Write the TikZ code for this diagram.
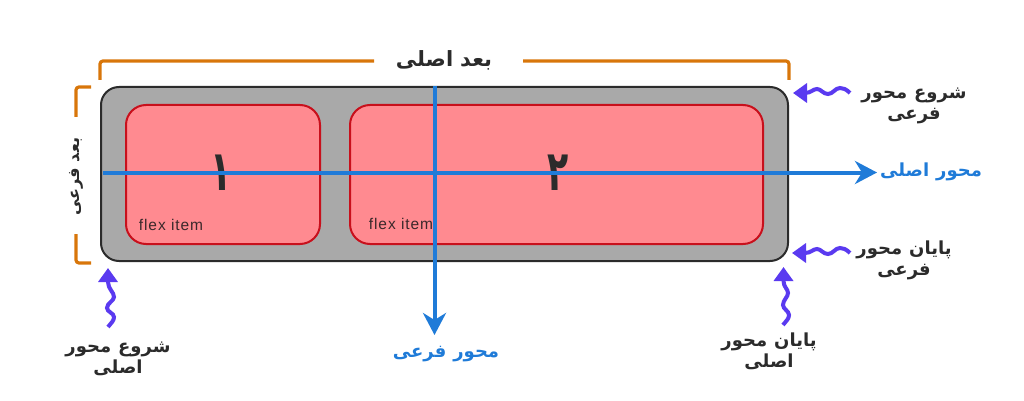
\documentclass[tikz,border=0pt]{standalone}
\usepackage{fontspec}
\usetikzlibrary{arrows.meta}
\setmainfont{Liberation Sans}
\newfontfamily\arabicbold[Script=Arabic]{DejaVu Sans Bold}
\newfontfamily\flexfont[LetterSpace=6]{Liberation Sans}
\TeXXeTstate=1
\newcommand{\rl}[1]{\beginR #1\endR}
\newcommand{\gapw}{\hspace{7pt}}
\definecolor{boxgray}{HTML}{A9A9A9}
\definecolor{itemfill}{HTML}{FF8A90}
\definecolor{itemline}{HTML}{C8101C}
\definecolor{axisblue}{HTML}{1F7BD8}
\definecolor{brk}{HTML}{D8760A}
\definecolor{wavy}{HTML}{5A3AF0}
\definecolor{ink}{HTML}{2B2B2B}
\tikzset{
  x=1pt,y=-1pt,
  container/.style={draw=ink,line width=2pt,fill=boxgray,rounded corners=18pt},
  itembox/.style={draw=itemline,line width=2pt,fill=itemfill,rounded corners=20pt},
  bracket/.style={draw=brk,line width=3.2pt,rounded corners=3pt},
  axisline/.style={draw=axisblue,line width=4pt,-{Stealth[length=22pt,width=23pt,inset=7pt]}},
  wavearrow/.style={draw=wavy,line width=4pt,-{Triangle[length=14pt,width=19pt]}},
  lbl/.style={font=\arabicbold\fontsize{18}{21}\selectfont,text=ink,align=center,inner sep=0pt},
  bluelbl/.style={font=\arabicbold\fontsize{18}{21}\selectfont,text=axisblue,align=center,inner sep=0pt},
  titlelbl/.style={font=\arabicbold\fontsize{21}{24}\selectfont,text=ink,align=center,inner sep=0pt},
  sidelbl/.style={font=\arabicbold\fontsize{16}{20}\selectfont,text=ink,inner sep=0pt},
  digit/.style={font=\arabicbold\fontsize{56}{56}\selectfont,text=ink,inner sep=0pt,xscale=.62},
  flexlbl/.style={font=\flexfont\fontsize{15.5}{16}\selectfont,text=ink!90!itemline,inner sep=0pt},
}
\begin{document}
\begin{tikzpicture}
\useasboundingbox (0,0) rectangle (1024,401);
\path[container] (101,87) rectangle (788,261);
\path[itembox] (126,105) rectangle (320,244);
\path[itembox] (350,105) rectangle (763,244);
\node[flexlbl] (f1) at (171,225) {flex item};
\node[flexlbl] (f2) at (401,224) {flex item};
\node[digit] (d1) at (221,173) {\rl{۱}};
\node[digit] (d2) at (558,173) {\rl{۲}};

\coordinate (hs) at (103,172.5);
\coordinate (he) at (877,172.5);
\coordinate (vs) at (434.5,86);
\coordinate (ve) at (434.5,335);
\draw[axisline] (vs) -- (ve);
\draw[axisline] (hs) -- (he);

\node[titlelbl] (tm) at (444,60) {\rl{بعد\gapw اصلی}};
\coordinate (b1a) at (100,80); \coordinate (b1b) at (100,61); \coordinate (b1c) at (374,61);
\draw[bracket] (b1a) -- (b1b) -- (b1c);
\coordinate (b2a) at (523,61); \coordinate (b2b) at (789,61); \coordinate (b2c) at (789,80);
\draw[bracket] (b2a) -- (b2b) -- (b2c);
\coordinate (b3a) at (91,87); \coordinate (b3b) at (76,87); \coordinate (b3c) at (76,117);
\draw[bracket] (b3a) -- (b3b) -- (b3c);
\coordinate (b4a) at (76,234); \coordinate (b4b) at (76,263); \coordinate (b4c) at (91,263);
\draw[bracket] (b4a) -- (b4b) -- (b4c);
\node[sidelbl,rotate=90] (cs) at (76,176.5) {\rl{بعد\ فرعی}};

% wavy arrows
\coordinate (w1s) at (850,93); \coordinate (w1e) at (793,93);
\draw[wavearrow] (w1s) .. controls (846,89) and (843,88) .. (840,88) .. controls (835,88) and (833,94) .. (828,94) .. controls (823,94) and (821,89) .. (817,89) .. controls (813,89) and (811,93) .. (805,93) -- (w1e);
\coordinate (w2s) at (850,253); \coordinate (w2e) at (792,253);
\draw[wavearrow] (w2s) .. controls (846,249) and (843,248) .. (840,248) .. controls (835,248) and (833,254) .. (828,254) .. controls (823,254) and (821,249) .. (817,249) .. controls (813,249) and (811,253) .. (805,253) -- (w2e);
\coordinate (w3s) at (783,325); \coordinate (w3e) at (783.5,267);
\draw[wavearrow] (w3s) .. controls (786,321) and (789,319) .. (789,315) .. controls (789,311) and (783,309) .. (783,305) .. controls (783,300) and (788,297) .. (788,293) .. controls (788,289) and (783.5,287) .. (783.5,281) -- (w3e);
\coordinate (w4s) at (108,327); \coordinate (w4e) at (108,268);
\draw[wavearrow] (w4s) .. controls (111,323) and (114,321) .. (114,317) .. controls (114,313) and (107,312) .. (107,308) .. controls (107,303) and (114,301) .. (114,297) .. controls (114,292) and (108,289) .. (108,282) -- (w4e);

\node[lbl] (t1) at (914,105.5) {\rl{شروع\gapw محور}\\\rl{فرعی}};
\node[bluelbl] (t2) at (931,172) {\rl{محور\gapw اصلی}};
\node[lbl] (t3) at (904,260.5) {\rl{پایان\gapw محور}\\\rl{فرعی}};
\node[lbl] (t4) at (769,351) {\rl{پایان\gapw محور}\\\rl{اصلی}};
\node[lbl] (t5) at (118,358.5) {\rl{شروع\gapw محور}\\\rl{اصلی}};
\node[bluelbl] (t6) at (446,354) {\rl{محور\gapw فرعی}};
\end{tikzpicture}
\end{document}
